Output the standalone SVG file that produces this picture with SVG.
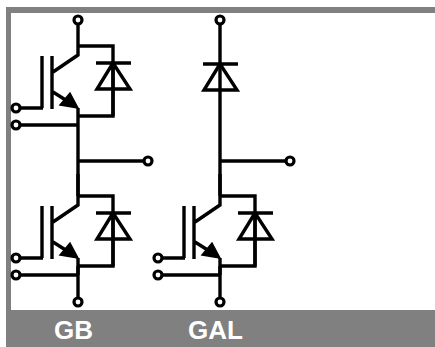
<svg xmlns="http://www.w3.org/2000/svg" xmlns:xlink="http://www.w3.org/1999/xlink" width="435" height="347" viewBox="0 0 435 347">
  <style>
    .w { fill: none; stroke: #000; stroke-width: 3.4; }
    .p { fill: #fff; stroke: #000; stroke-width: 3.2; }
    .t { font-family: "Liberation Sans", Arial, sans-serif; font-weight: 700; font-size: 26px; fill: #fff; }
  </style>
  <defs>
    <g id="igbt">
      <path class="w" d="M78 24V55L53 72M42 56V108M15 108H43M52 56V109M53 92L72 104"/>
      <path d="M78 108L70 93L60 105Z" fill="#000" stroke="#000" stroke-width="1.5"/>
      <path class="w" d="M78 46H113V116H78M78 108V125M20 125H78"/>
      <path class="w" d="M96 63H131M113 63L97 89H130ZM113 63V116"/>
      <circle class="p" cx="16" cy="108" r="4"/>
      <circle class="p" cx="16" cy="125" r="4"/>
    </g>
  </defs>
  <rect id="frame-top" x="6" y="7" width="429" height="6" fill="#808080"/>
  <rect id="frame-left" x="6" y="7" width="5" height="340" fill="#808080"/>
  <rect id="frame-bottom" x="6" y="310" width="429" height="37" fill="#808080"/>
  <g id="connectors">
    <path class="w" d="M78 125V196M78 161H144M78 266V298M220 24V196M220 161H286"/>
  </g>
  <g id="GB-upper"><use xlink:href="#igbt"/></g>
  <g id="GB-lower"><use xlink:href="#igbt" transform="translate(0 150)"/></g>
  <g id="GAL-lower">
    <use xlink:href="#igbt" transform="translate(142 150)"/>
    <path class="w" d="M220 266V298"/>
  </g>
  <g id="GAL-diode"><path class="w" d="M203 64H238M220 64L204 90H237Z"/></g>
  <g id="terminals">
    <circle class="p" cx="78" cy="20" r="4"/>
    <circle class="p" cx="148" cy="161" r="4"/>
    <circle class="p" cx="78" cy="302" r="4"/>
    <circle class="p" cx="220" cy="20" r="4"/>
    <circle class="p" cx="290" cy="161" r="4"/>
    <circle class="p" cx="220" cy="302" r="4"/>
  </g>
  <text class="t" x="54" y="339">GB</text>
  <text class="t" x="188" y="339">GAL</text>
</svg>
